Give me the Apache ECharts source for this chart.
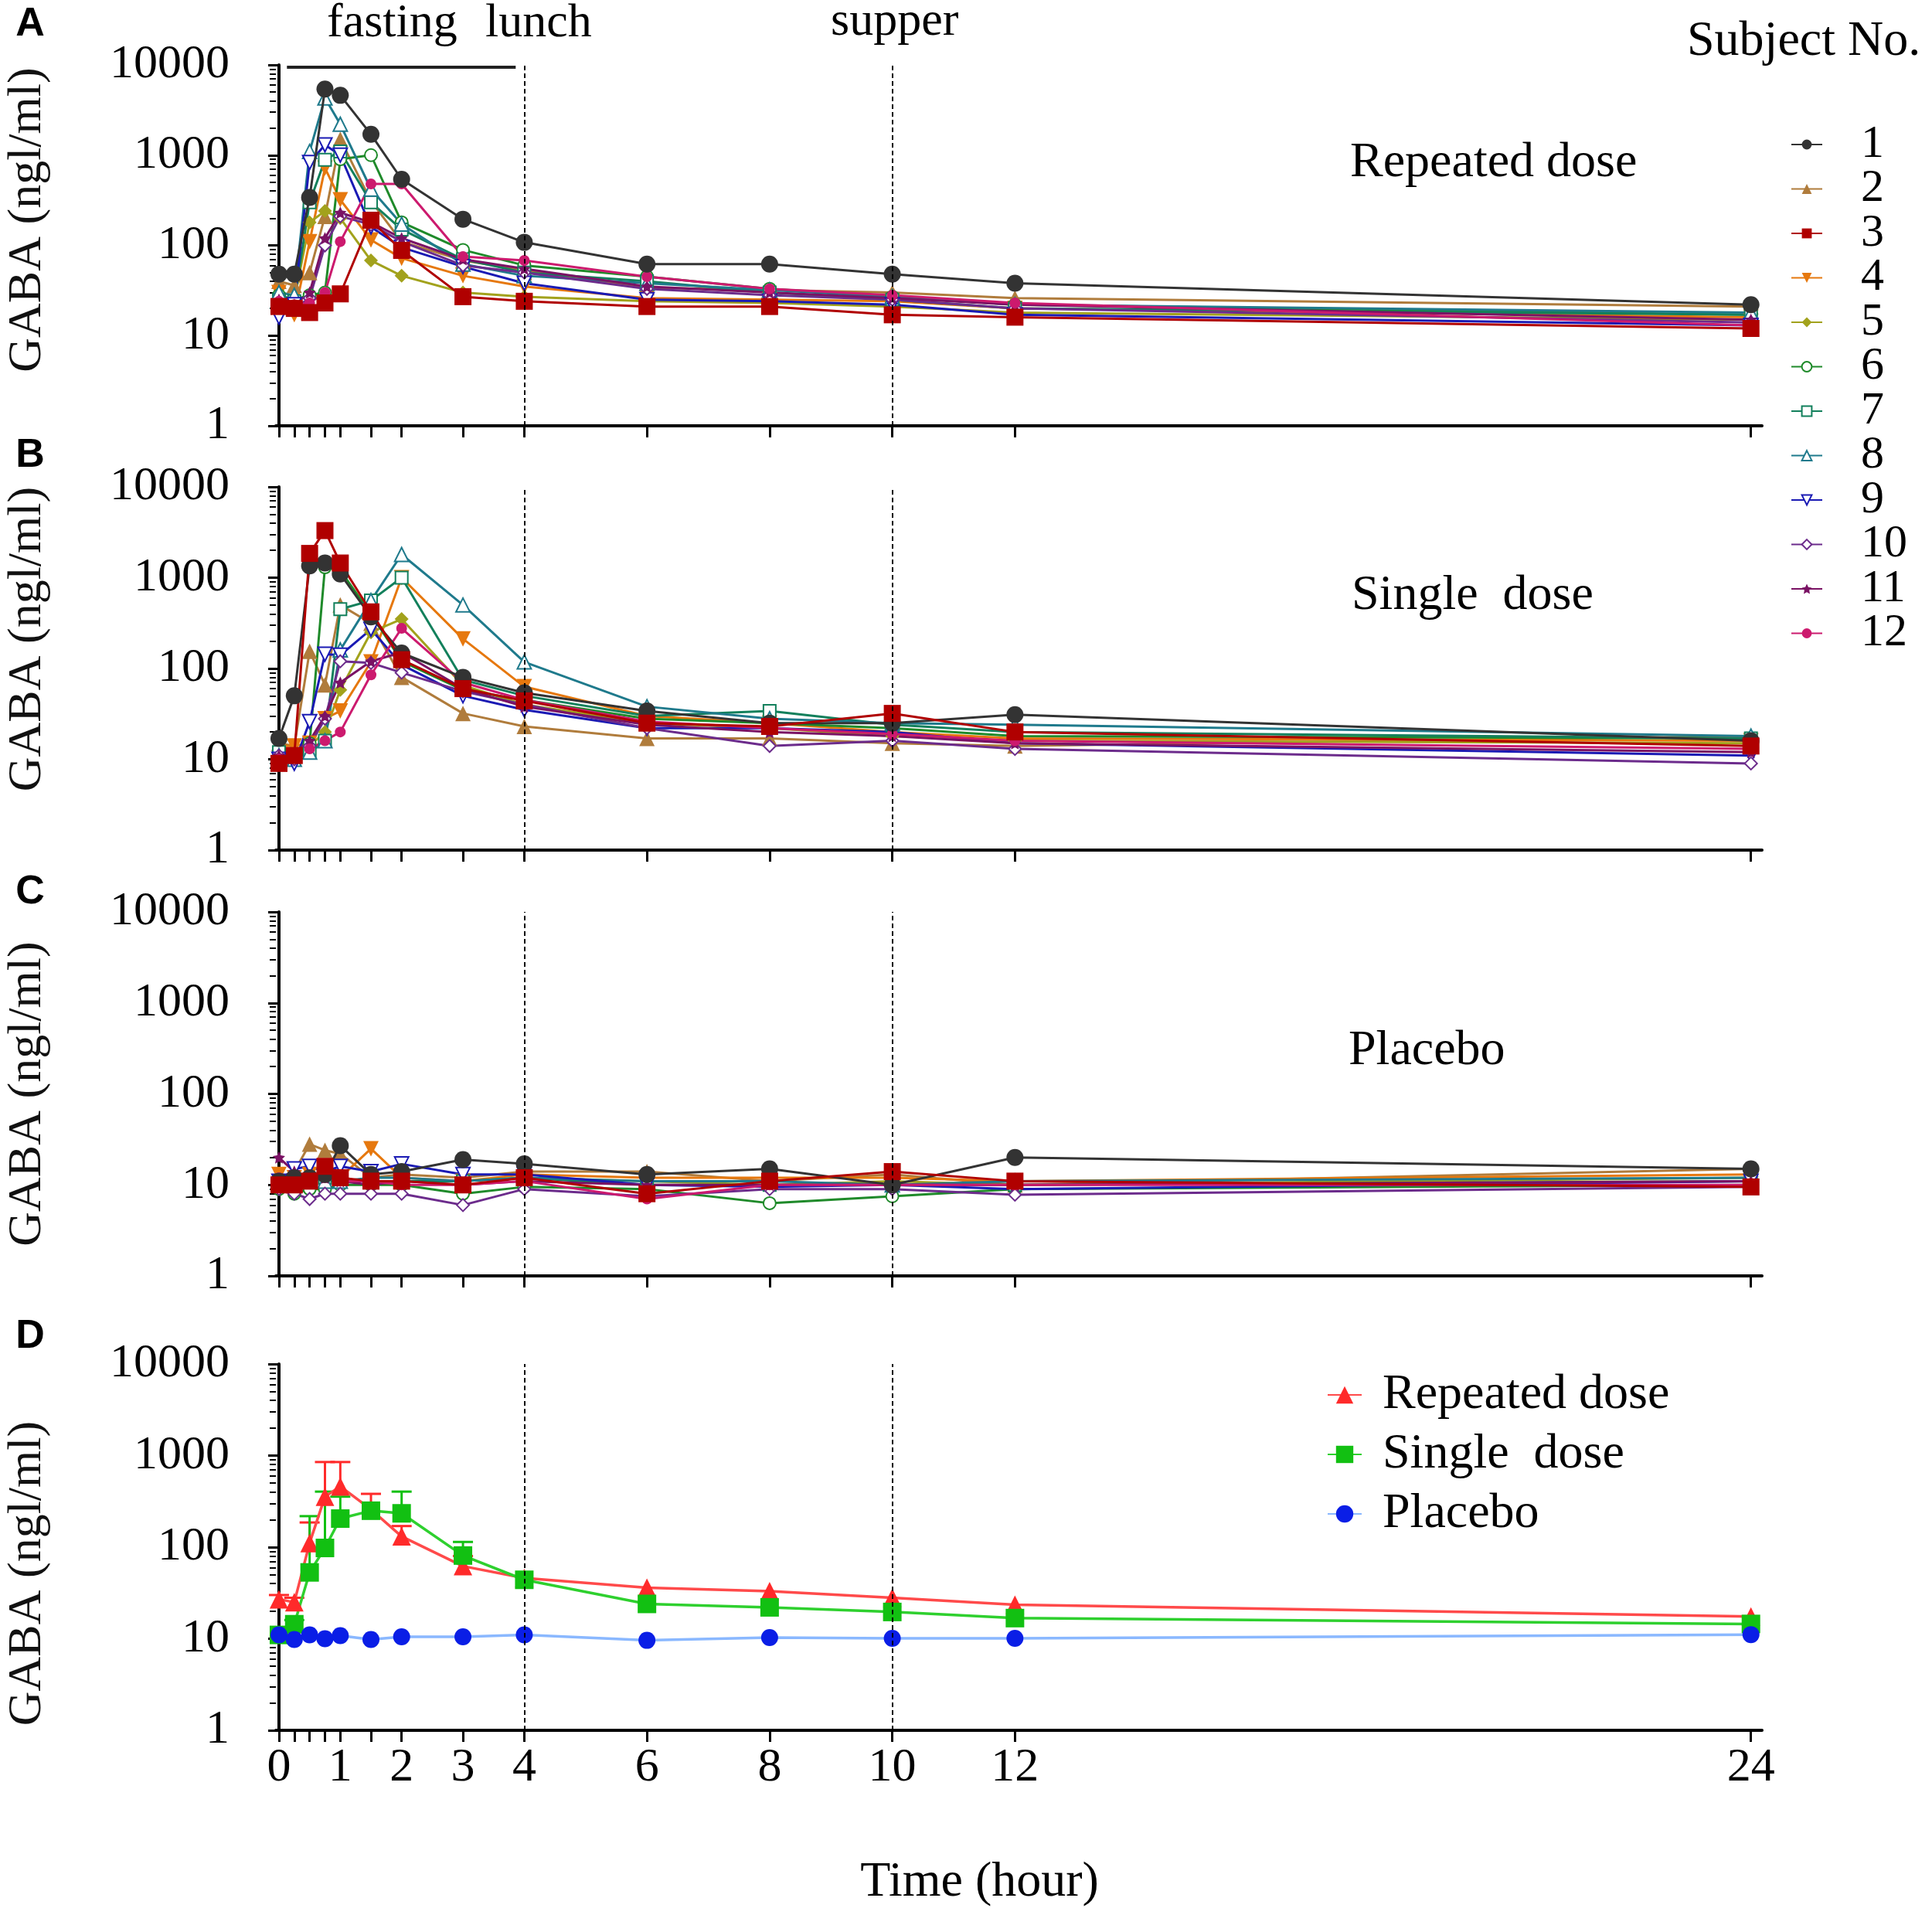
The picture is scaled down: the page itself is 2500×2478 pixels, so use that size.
<!DOCTYPE html>
<html><head><meta charset="utf-8">
<script src="https://cdn.jsdelivr.net/npm/echarts@6/dist/echarts.min.js"></script>
<style>html,body{margin:0;padding:0;background:#fff}#c{width:2500px;height:2478px}</style>
</head><body><div id="c"></div>
<script>
// ---------- data ----------
const times = [0, 0.25, 0.5, 0.75, 1, 1.5, 2, 3, 4, 6, 8, 10, 12, 24];
const xTickLabels = [0, 1, 2, 3, 4, 6, 8, 10, 12, 24];
const yMinorTicks = [2,3,4,5,6,7,8,9,20,30,40,50,60,70,80,90,200,300,400,500,600,700,800,900,2000,3000,4000,5000,6000,7000,8000,9000];
const subjects = ['1','2','3','4','5','6','7','8','9','10','11','12'];
const mealMarks = [4, 10];
const fastingBar = [0.13, 3.86, 9400];

// Panel A: repeated dose, one row per subject
const repeatedDose = [
  [48, 48, 340, 5400, 4600, 1700, 540, 195, 108, 62, 62, 48, 38, 22],
  [40, 36, 50, 210, 1500, 310, 110, 68, 53, 34, 32, 30, 26, 21],
  [21, 20, 18, 23, 29, 190, 88, 27, 24, 21, 21, 17, 16, 12],
  [30, 17, 110, 720, 320, 115, 72, 46, 35, 26, 25, 24, 20, 16],
  [27, 25, 180, 240, 200, 68, 46, 30, 27, 24, 23, 21, 18, 15],
  [28, 25, 28, 30, 900, 1000, 180, 89, 60, 45, 33, 27, 22, 17],
  [25, 24, 300, 890, 1100, 300, 150, 70, 50, 40, 30, 25, 20, 17],
  [30, 28, 1100, 4300, 2200, 420, 172, 62, 46, 38, 32, 27, 22, 18],
  [16, 22, 830, 1300, 1000, 160, 95, 58, 38, 25, 24, 22, 17, 13],
  [22, 20, 26, 100, 210, 170, 110, 60, 50, 33, 28, 25, 20, 14],
  [25, 22, 30, 120, 230, 180, 120, 70, 55, 35, 30, 26, 22, 15],
  [24, 22, 23, 30, 110, 480, 480, 75, 68, 45, 33, 28, 23, 13]
];
// Panel B: single dose
const singleDose = [
  [17, 50, 1350, 1450, 1100, 370, 148, 80, 54, 34, 25, 25, 31, 16],
  [15, 14, 155, 66, 500, 315, 80, 32, 23, 17, 17, 15, 14, 18],
  [9, 11, 1850, 3300, 1450, 420, 125, 60, 44, 25, 23, 32, 20, 14],
  [14, 14, 15, 28, 34, 118, 1000, 212, 63, 30, 25, 20, 17, 16],
  [12, 11, 14, 20, 58, 250, 350, 65, 40, 25, 22, 18, 16, 15],
  [12, 11, 15, 1300, 1200, 400, 120, 58, 45, 28, 25, 22, 18, 17],
  [12, 11, 12, 16, 450, 560, 1000, 75, 50, 30, 34, 24, 20, 17],
  [11, 10, 12, 16, 160, 560, 1800, 500, 118, 38, 28, 25, 24, 18],
  [10, 9, 26, 144, 140, 270, 110, 50, 35, 22, 22, 20, 15, 11],
  [11, 10, 14, 28, 120, 115, 90, 56, 40, 22, 14, 16, 13, 9],
  [11, 12, 16, 30, 70, 120, 150, 60, 38, 24, 20, 18, 15, 12],
  [10, 11, 13, 16, 20, 85, 277, 70, 45, 26, 22, 19, 16, 13]
];
// Panel C: placebo
const placebo = [
  [11, 12, 12, 13, 27, 13, 14, 19, 17, 13, 15, 10, 20, 15],
  [12, 14, 28, 24, 22, 12, 13, 12, 14, 14, 11, 13, 10, 15],
  [10, 10, 11, 16, 12, 11, 11, 10, 12, 8, 11, 14, 11, 9.5],
  [13, 12, 13, 12, 12, 25, 12, 11, 13, 12, 12, 12, 11, 13],
  [11, 10, 11, 12, 11, 11, 11, 11, 12, 11, 10, 11, 10, 12],
  [9, 8, 9, 9, 10, 10, 10, 8, 9.5, 9, 6.3, 7.5, 9, 10],
  [10, 10, 11, 12, 11, 11, 11, 11, 12, 10, 10, 10, 10, 11],
  [11, 12, 12, 11, 11, 12, 12, 11, 12, 11, 11, 10, 11, 12],
  [11, 15, 16, 14, 16, 14, 17, 13, 13, 10, 9.5, 10, 9, 11],
  [9, 8, 7, 8, 8, 8, 8, 6, 9, 7.5, 9, 9, 7.8, 9.5],
  [20, 14, 12, 12, 11, 10, 11, 10, 11, 10, 10, 10, 10, 11],
  [12, 11, 12, 12, 11, 11, 10, 10, 11, 7, 10, 10, 10, 10]
];
// Panel D: means and upper error bars
const groupNames = ['Repeated dose', 'Single  dose', 'Placebo'];
const meanRepeated = [27, 25, 111, 356, 460, 258, 131, 62, 46, 36, 33, 28, 23.5, 17.5];
const upperRepeated = [30, 28, 186, 850, 850, 382, 170, 80, null, null, null, null, null, null];
const meanSingle = [11, 14.4, 53, 98, 205, 250, 234, 81, 44, 24, 22, 19.6, 16.8, 14.5];
const upperSingle = [null, 16, 218, 404, 356, null, 404, 114, null, null, null, null, null, null];
const meanPlacebo = [11, 9.8, 11, 10, 10.8, 9.8, 10.5, 10.5, 11, 9.6, 10.3, 10.1, 10.1, 11.1];

// ---------- styles ----------
const SERIF = '"Liberation Serif","DejaVu Serif",serif';
const SANS = '"Liberation Sans",Arial,sans-serif';
const subjColors = ['#333333','#b07c3c','#b00000','#e6780e','#a2a21c','#1f8a2a','#13805c','#1f7a8c','#1a1ab4','#6c2c8c','#7a1264','#cc1a6e'];
const STAR = 'path://M0,-10L2.9,-4L9.5,-3.1L4.7,1.5L5.9,8.1L0,5L-5.9,8.1L-4.7,1.5L-9.5,-3.1L-2.9,-4Z';
const subjSymbols = ['circle','triangle','rect','triangle','diamond','emptyCircle','emptyRect','emptyTriangle','emptyTriangle','emptyDiamond',STAR,'circle'];
const subjRotate = [0,0,0,180,0,0,0,0,180,0,0,0];
const subjSize = [22,20,22,20,18,16,16,18,18,16,16,14];
const grids = [
  {left: 357, top: 84, width: 1923, height: 467},
  {left: 357, top: 630, width: 1923, height: 470},
  {left: 357, top: 1180, width: 1923, height: 471},
  {left: 357, top: 1765, width: 1923, height: 474}
];
const namePad = [[0,0,0,66],[0,0,0,76],[0,0,0,0],[0,68,0,0]];

const xAxes = grids.map((g, i) => ({
  type: 'value', gridIndex: i, min: -0.05, max: 24.18,
  axisLine: {lineStyle: {color: '#000', width: 4}},
  axisTick: {customValues: times, length: 15, lineStyle: {color: '#000', width: 3}},
  axisLabel: {show: i === 3, customValues: xTickLabels, fontSize: 62, fontFamily: SERIF, color: '#000', margin: 18},
  splitLine: {show: false},
  name: i === 3 ? 'Time (hour)' : '',
  nameLocation: 'middle', nameGap: 165,
  nameTextStyle: {fontSize: 64, fontFamily: SERIF, color: '#000', padding: [0, 102, 0, 0]}
}));
const yMain = grids.map((g, i) => ({
  type: 'log', logBase: 10, gridIndex: i, min: 1, max: 10000, position: 'left',
  axisLine: {show: true, lineStyle: {color: '#000', width: 4}},
  axisTick: {show: true, length: 14, lineStyle: {color: '#000', width: 3}},
  axisLabel: {fontSize: 62, fontFamily: SERIF, color: '#000', margin: 60,
              formatter: v => String(Math.round(v))},
  splitLine: {show: false},
  name: 'GABA (ngl/ml)', nameLocation: 'middle', nameRotate: 90, nameGap: 290,
  nameTextStyle: {fontSize: 62, fontFamily: SERIF, color: '#111', padding: namePad[i]}
}));
const yMinor = grids.map((g, i) => ({
  type: 'log', logBase: 10, gridIndex: i, min: 1, max: 10000, position: 'left', offset: 0,
  axisLine: {show: false},
  axisTick: {show: true, customValues: yMinorTicks, length: 8, lineStyle: {color: '#000', width: 2}},
  axisLabel: {show: false},
  splitLine: {show: false}
}));

const series = [];
const panelData = [repeatedDose, singleDose, placebo];
const dash = {color: '#000', width: 2, type: [6, 4]};
function guideLines(p) {
  const data = mealMarks.map(v => ({xAxis: v, lineStyle: dash}));
  if (p === 0) {
    data.push([{coord: [fastingBar[0], fastingBar[2]], lineStyle: {color: '#222', width: 4, type: 'solid'}},
               {coord: [fastingBar[1], fastingBar[2]]}]);
  }
  return {silent: true, symbol: ['none', 'none'], label: {show: false}, data: data, animation: false};
}
panelData.forEach((rows, p) => {
  rows.forEach((vals, s) => {
    const ser = {
      type: 'line', name: subjects[s], xAxisIndex: p, yAxisIndex: p,
      data: times.map((t, k) => [t, vals[k]]),
      symbol: subjSymbols[s], symbolSize: subjSize[s], symbolRotate: subjRotate[s],
      showAllSymbol: true,
      itemStyle: {color: subjColors[s], borderWidth: 2.5},
      lineStyle: {color: subjColors[s], width: 3},
      z: 2 + (s === 0 || s === 2 ? 1 : 0),
      animation: false
    };
    if (s === 0) ser.markLine = guideLines(p);
    series.push(ser);
  });
});
// Panel D
const groupColors = ['#ff2a2a', '#12c012', '#0a1ee6'];
const groupLine = ['#ff4a4a', '#2ed02e', '#8ab8ff'];
const groupSymbols = ['triangle', 'rect', 'circle'];
[meanRepeated, meanSingle, meanPlacebo].forEach((vals, g) => {
  const ser = {
    type: 'line', name: groupNames[g], xAxisIndex: 3, yAxisIndex: 3,
    data: times.map((t, k) => [t, vals[k]]),
    symbol: groupSymbols[g], symbolSize: g === 2 ? 22 : 24, showAllSymbol: true,
    itemStyle: {color: groupColors[g]},
    lineStyle: {color: groupLine[g], width: 3.5},
    z: 4, animation: false
  };
  if (g === 0) ser.markLine = guideLines(3);
  series.push(ser);
});
[[meanRepeated, upperRepeated, 0], [meanSingle, upperSingle, 1]].forEach(([m, u, g]) => {
  const d = [];
  times.forEach((t, k) => { if (u[k] != null) d.push([t, m[k], u[k]]); });
  series.push({
    type: 'custom', name: 'err' + g, xAxisIndex: 3, yAxisIndex: 3, z: 3, silent: true,
    data: d, encode: {x: 0, y: [1, 2]},
    renderItem: (params, api) => {
      const p0 = api.coord([api.value(0), api.value(1)]);
      const p1 = api.coord([api.value(0), api.value(2)]);
      const col = groupColors[g];
      return {type: 'group', children: [
        {type: 'line', shape: {x1: p0[0], y1: p0[1], x2: p1[0], y2: p1[1]}, style: {stroke: col, lineWidth: 3}},
        {type: 'line', shape: {x1: p1[0] - 13, y1: p1[1], x2: p1[0] + 13, y2: p1[1]}, style: {stroke: col, lineWidth: 3}}
      ]};
    },
    animation: false
  });
});

function txt(x, y, s, opts) {
  return Object.assign({type: 'text', x: x, y: y, silent: true,
    style: Object.assign({text: s, fill: '#000', font: '62px ' + SERIF, textVerticalAlign: 'middle'}, opts || {})});
}
const panelLetterFont = 'bold 52px ' + SANS;
const graphic = [
  txt(39, 32, 'A', {font: panelLetterFont, textAlign: 'center'}),
  txt(39, 590, 'B', {font: panelLetterFont, textAlign: 'center'}),
  txt(39, 1155, 'C', {font: panelLetterFont, textAlign: 'center'}),
  txt(39, 1730, 'D', {font: panelLetterFont, textAlign: 'center'}),
  txt(423, 31, 'fasting'),
  txt(628, 31, 'lunch'),
  txt(1075, 29, 'supper'),
  txt(2183, 54, 'Subject No.', {font: '64px ' + SERIF}),
  txt(1747, 211, 'Repeated dose', {font: '64px ' + SERIF}),
  txt(1749, 771, 'Single  dose', {font: '64px ' + SERIF}),
  txt(1745, 1360, 'Placebo', {font: '64px ' + SERIF})
];

const chart = echarts.init(document.getElementById('c'), null, {renderer: 'canvas'});
chart.setOption({
  backgroundColor: '#fff',
  animation: false,
  grid: grids.map(g => Object.assign({outerBoundsMode: 'none', containLabel: false}, g)),
  xAxis: xAxes,
  yAxis: yMain.concat(yMinor),
  legend: [
    {data: subjects, orient: 'vertical', left: 2312, top: 152, itemWidth: 40, itemHeight: 16, itemGap: -2.5,
     selectedMode: false,
     textStyle: {fontSize: 60, fontFamily: SERIF, color: '#000', lineHeight: 57.5, padding: [0, 0, 0, 45]}},
    {data: groupNames, orient: 'vertical', left: 1712, top: 1765, itemWidth: 44, itemHeight: 28, itemGap: 7,
     selectedMode: false,
     textStyle: {fontSize: 64, fontFamily: SERIF, color: '#000', lineHeight: 70, padding: [0, 0, 0, 22]}}
  ],
  graphic: graphic,
  series: series
});
</script></body></html>
